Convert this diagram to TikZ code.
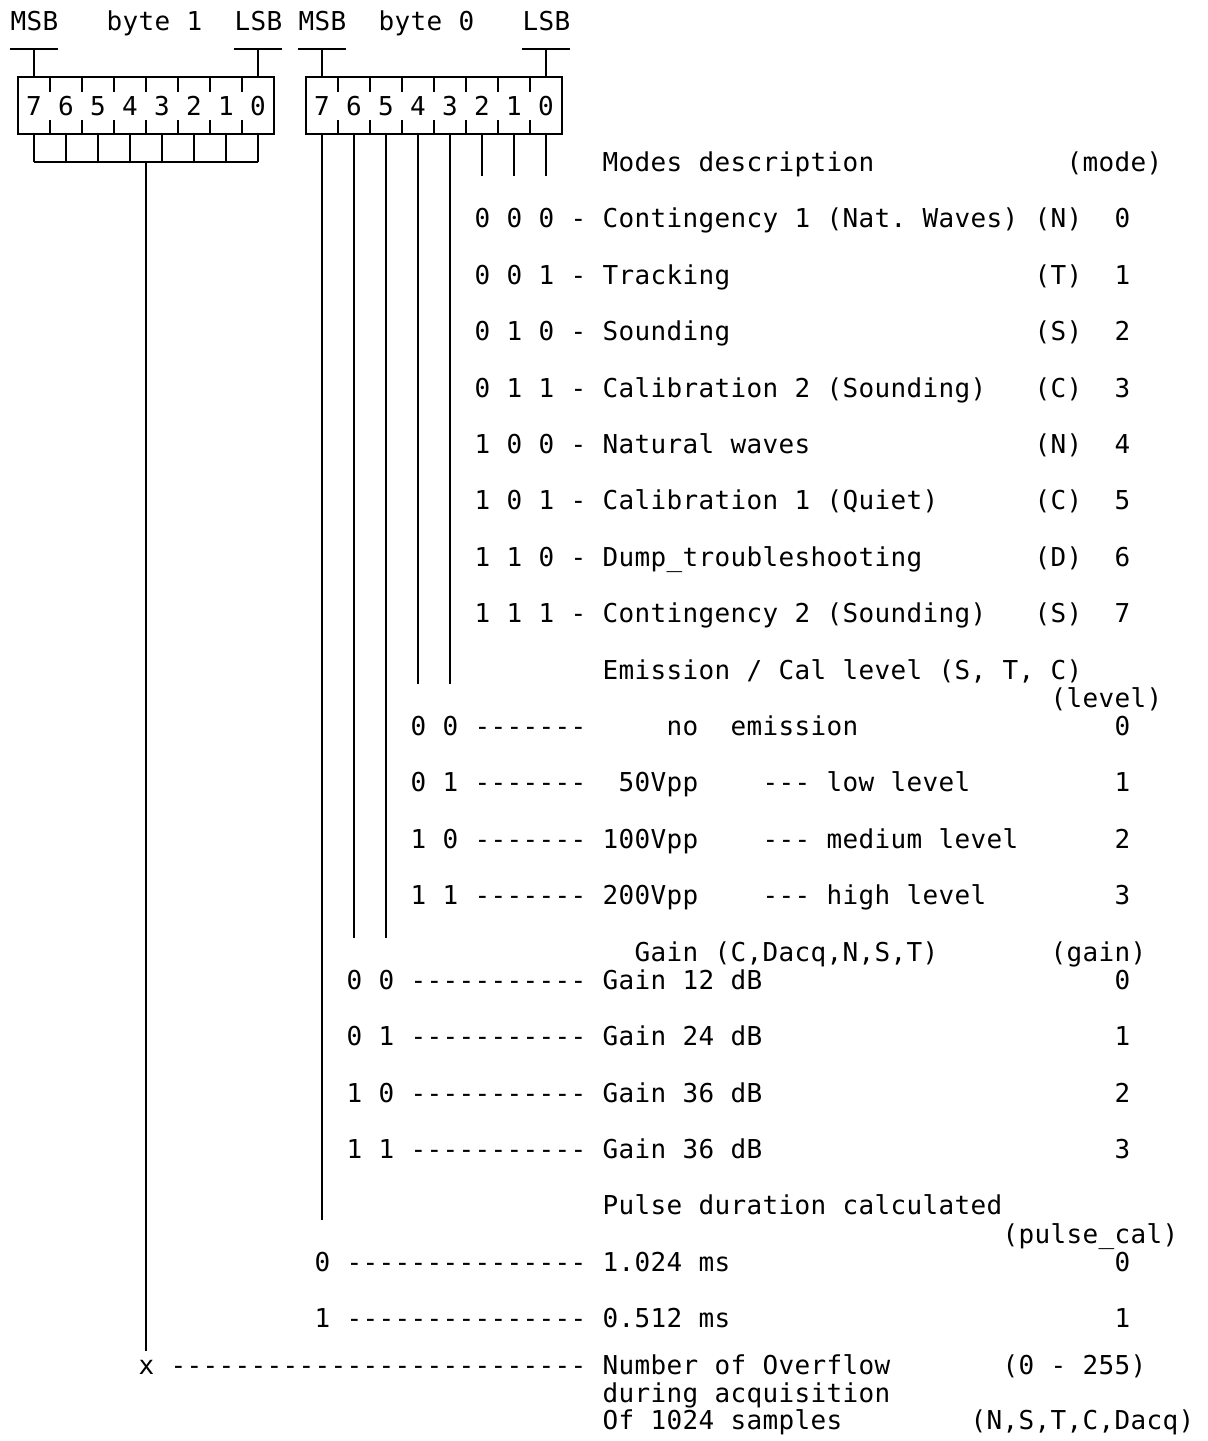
\documentclass[tikz,border=0pt]{standalone}
\usepackage{fontspec}
\setmonofont{DejaVu Sans Mono}
\ExplSyntaxOn
\NewDocumentCommand\monoline{m}{\str_map_inline:nn{#1}{\makebox[8pt][c]{##1}}}
\ExplSyntaxOff
\newcommand\cx[1]{18+16*#1}
\newcommand\ry[1]{21+28.2*#1}
\newcommand\txtxy[4]{\node[txt] (#1) at ({10+16*#2},{#3+9.5}) {\monoline{#4}};}
\newcommand\txtat[4]{\txtxy{#1}{#2}{21+28.2*#3}{#4}}
\newcommand\moderow[6]{%
  \txtat{#1b}{29}{#2}{#3 -}%
  \txtat{#1d}{37}{#2}{#4}%
  \txtat{#1c}{64}{#2}{#5}%
  \txtat{#1n}{69}{#2}{#6}}
\tikzset{
  ln/.style={line width=1pt, line cap=butt},
  txt/.style={anchor=base west, inner sep=0pt, font=\ttfamily\fontsize{13}{15}\selectfont},
  dig/.style={anchor=base, inner sep=0pt, font=\ttfamily\fontsize{13}{15}\selectfont}
}
\begin{document}
\begin{tikzpicture}[x=0.5pt,y=-0.5pt]
\useasboundingbox[fill=white] (0,0) rectangle (1207,1441);

% ---- header texts
\txtat{t0}{0}{0}{MSB}
\txtat{t1}{6}{0}{byte 1}
\txtat{t2}{14}{0}{LSB}
\txtat{t3}{18}{0}{MSB}
\txtat{t4}{23}{0}{byte 0}
\txtat{t5}{32}{0}{LSB}

% ---- MSB / LSB brackets
\draw[ln] (10,{\ry1}) -- (58,{\ry1});   \draw[ln] (34,{\ry1}) -- (34,{\ry2});
\draw[ln] (234,{\ry1}) -- (282,{\ry1}); \draw[ln] (258,{\ry1}) -- (258,{\ry2});
\draw[ln] (298,{\ry1}) -- (346,{\ry1}); \draw[ln] (322,{\ry1}) -- (322,{\ry2});
\draw[ln] (522,{\ry1}) -- (570,{\ry1}); \draw[ln] (546,{\ry1}) -- (546,{\ry2});

% ---- byte boxes
\draw[ln] (18,{\ry2}) rectangle (274,{\ry4});
\draw[ln] (306,{\ry2}) rectangle (562,{\ry4});
\foreach \c in {2,4,...,14,20,22,...,32} {
  \draw[ln] ({\cx{\c}},{\ry2}) -- ++(0,14.1);
  \draw[ln] ({\cx{\c}},{\ry4}) -- ++(0,-14.1);
}
\foreach \d [count=\i from 0] in {7,6,5,4,3,2,1,0} {
  \node[dig] (a\d) at ({18+16*(1+2*\i)},{\ry3+9.5}) {\makebox[8pt][c]{\d}};
  \node[dig] (b\d) at ({18+16*(19+2*\i)},{\ry3+9.5}) {\makebox[8pt][c]{\d}};
}

% ---- byte 1 collector
\foreach \c in {1,3,...,15} { \draw[ln] ({\cx{\c}},{\ry4}) -- ({\cx{\c}},{\ry5}); }
\draw[ln] (34,{\ry5}) -- (258,{\ry5});
\coordinate (xend) at (146,1351);
\draw[ln] (146,{\ry5}) -- (xend);

% ---- byte 0 bit lines
\coordinate (e7) at (322,{\ry{42}+14.1});
\coordinate (e6) at (354,{\ry{32}+14.1});
\coordinate (e5) at (386,{\ry{32}+14.1});
\coordinate (e4) at (418,{\ry{23}+14.1});
\coordinate (e3) at (450,{\ry{23}+14.1});
\coordinate (e2) at (482,{\ry{5}+14.1});
\coordinate (e1) at (514,{\ry{5}+14.1});
\coordinate (e0) at (546,{\ry{5}+14.1});
\foreach \d in {7,6,5,4,3,2,1,0} { \draw[ln] (e\d |- 0,{\ry4}) -- (e\d); }

% ---- modes
\txtat{m0}{37}{5}{Modes description}
\txtat{m0r}{66}{5}{(mode)}
\moderow{ma}{7}{0 0 0}{Contingency 1 (Nat. Waves)}{(N)}{0}
\moderow{mb}{9}{0 0 1}{Tracking}{(T)}{1}
\moderow{mc}{11}{0 1 0}{Sounding}{(S)}{2}
\moderow{md}{13}{0 1 1}{Calibration 2 (Sounding)}{(C)}{3}
\moderow{me}{15}{1 0 0}{Natural waves}{(N)}{4}
\moderow{mf}{17}{1 0 1}{Calibration 1 (Quiet)}{(C)}{5}
\moderow{mg}{19}{1 1 0}{Dump_troubleshooting}{(D)}{6}
\moderow{mh}{21}{1 1 1}{Contingency 2 (Sounding)}{(S)}{7}

% ---- emission level
\txtat{e0t}{37}{23}{Emission / Cal level (S, T, C)}
\txtat{e0r}{65}{24}{(level)}
\txtat{l0b}{25}{25}{0 0 -------}
\txtat{l0d}{41}{25}{no}
\txtat{l0e}{45}{25}{emission}
\txtat{l0n}{69}{25}{0}
\txtat{l1b}{25}{27}{0 1 -------}
\txtat{l1d}{38}{27}{50Vpp}
\txtat{l1e}{47}{27}{--- low level}
\txtat{l1n}{69}{27}{1}
\txtat{l2b}{25}{29}{1 0 -------}
\txtat{l2d}{37}{29}{100Vpp}
\txtat{l2e}{47}{29}{--- medium level}
\txtat{l2n}{69}{29}{2}
\txtat{l3b}{25}{31}{1 1 -------}
\txtat{l3d}{37}{31}{200Vpp}
\txtat{l3e}{47}{31}{--- high level}
\txtat{l3n}{69}{31}{3}

% ---- gain
\txtat{g0t}{39}{33}{Gain (C,Dacq,N,S,T)}
\txtat{g0r}{65}{33}{(gain)}
\txtat{g1b}{21}{34}{0 0 -----------}
\txtat{g1d}{37}{34}{Gain 12 dB}
\txtat{g1n}{69}{34}{0}
\txtat{g2b}{21}{36}{0 1 -----------}
\txtat{g2d}{37}{36}{Gain 24 dB}
\txtat{g2n}{69}{36}{1}
\txtat{g3b}{21}{38}{1 0 -----------}
\txtat{g3d}{37}{38}{Gain 36 dB}
\txtat{g3n}{69}{38}{2}
\txtat{g4b}{21}{40}{1 1 -----------}
\txtat{g4d}{37}{40}{Gain 36 dB}
\txtat{g4n}{69}{40}{3}

% ---- pulse
\txtat{p0t}{37}{42}{Pulse duration calculated}
\txtat{p0r}{62}{43}{(pulse_cal)}
\txtat{p1b}{19}{44}{0 ---------------}
\txtat{p1d}{37}{44}{1.024 ms}
\txtat{p1n}{69}{44}{0}
\txtat{p2b}{19}{46}{1 ---------------}
\txtat{p2d}{37}{46}{0.512 ms}
\txtat{p2n}{69}{46}{1}

% ---- overflow
\txtxy{o0b}{8}{1365}{x --------------------------}
\txtxy{o0d}{37}{1365}{Number of Overflow}
\txtxy{o0r}{62}{1365}{(0 - 255)}
\txtxy{o1d}{37}{1392.5}{during acquisition}
\txtxy{o2d}{37}{1420}{Of 1024 samples}
\txtxy{o2r}{60}{1420}{(N,S,T,C,Dacq)}
\end{tikzpicture}
\end{document}
